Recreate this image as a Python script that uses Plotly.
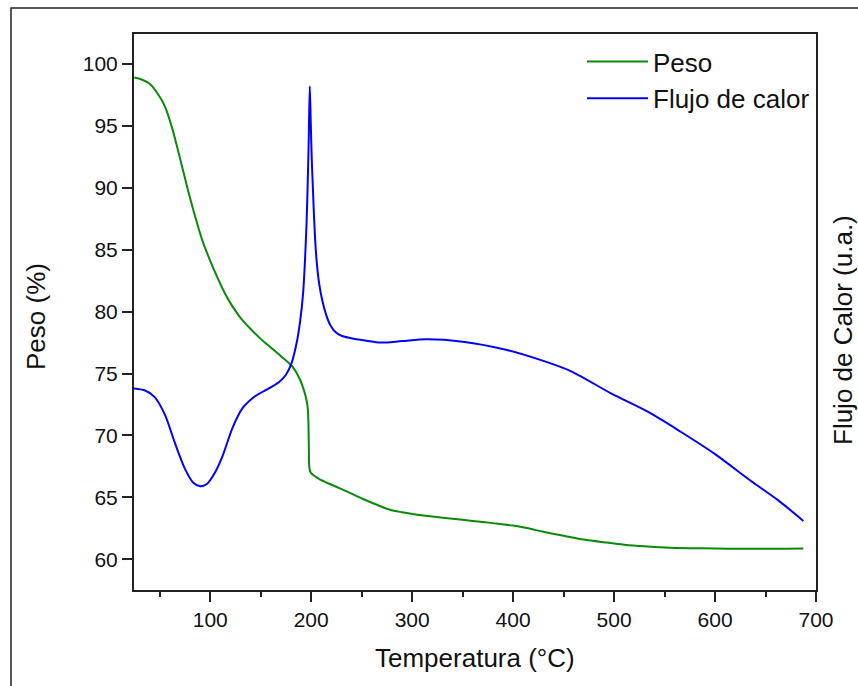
import plotly.graph_objects as go

# Peso (%) vs temperature (°C)
temp_peso = [24.8, 32, 40, 48, 55, 62, 70, 78, 85, 92, 100, 108, 115, 123, 130, 140, 150, 160,
             170, 182, 189, 193, 195.5, 196.8, 197.6, 198.2, 199.5, 202, 208.5, 215, 228, 240, 252,
             265, 278, 290, 305, 320, 340, 360, 380, 400, 415, 430, 450, 470, 490, 510, 530, 550,
             575, 600, 625, 650, 670, 687.5]
peso = [98.9, 98.75, 98.4, 97.6, 96.6, 94.9, 92.4, 89.8, 87.7, 85.8, 84.1, 82.6, 81.4, 80.3, 79.5,
        78.6, 77.8, 77.1, 76.4, 75.5, 74.5, 73.6, 72.8, 72.0, 69.5, 67.4, 67.0, 66.8, 66.45, 66.2,
        65.75, 65.3, 64.85, 64.4, 64.0, 63.8, 63.6, 63.45, 63.28, 63.1, 62.92, 62.72, 62.5, 62.22,
        61.9, 61.6, 61.38, 61.18, 61.05, 60.96, 60.9, 60.87, 60.85, 60.85, 60.86, 60.88]

# Flujo de calor (u.a.), drawn on the same visual scale as the left axis
temp_flujo = [24.5, 35, 45, 55, 65, 75, 83, 90, 97, 104, 112, 122, 132, 145, 158, 168, 175, 180.4,
              185.4, 189, 192, 195.3, 196.9, 197.6, 198.6, 199.5, 200.5, 201.9, 203.6, 205.5, 208,
              211, 215, 219, 224, 230, 240, 255, 268, 290, 314, 350, 394, 427, 457, 497, 536, 566,
              599, 636, 662, 687.5]
flujo = [73.8, 73.65, 73.1, 71.7, 69.4, 67.3, 66.2, 65.9, 66.1, 66.9, 68.3, 70.6, 72.2, 73.2, 73.8,
         74.3, 74.9, 75.8, 77.4, 79.2, 81.5, 86.9, 91.5, 94.0, 98.2, 95.5, 92.5, 89.5, 86.3, 84.0,
         82.2, 80.9, 79.7, 78.9, 78.35, 78.05, 77.85, 77.65, 77.5, 77.62, 77.76, 77.57, 76.9, 76.1,
         75.2, 73.4, 71.8, 70.3, 68.55, 66.3, 64.8, 63.1]

x_ticks = [100, 200, 300, 400, 500, 600, 700]
y_ticks = [60, 65, 70, 75, 80, 85, 90, 95, 100]

FONT = "Liberation Sans, Arial, sans-serif"

fig = go.Figure()
fig.add_trace(go.Scatter(x=temp_peso, y=peso, mode="lines", name="Peso",
                         line=dict(color="#0a8a0a", width=2, shape="spline", smoothing=0.8)))
fig.add_trace(go.Scatter(x=temp_flujo, y=flujo, mode="lines", name="Flujo de calor",
                         line=dict(color="#0000ff", width=2, shape="spline", smoothing=0.8),
                         yaxis="y2"))

fig.update_layout(
    width=858, height=686,
    margin=dict(l=134, r=42, t=34, b=96),
    paper_bgcolor="white", plot_bgcolor="white",
    font=dict(family=FONT, color="#111", size=21),
    showlegend=True,
    legend=dict(x=(582 - 134) / 682, y=1.0 - 4 / 556, xanchor="left", yanchor="top",
                font=dict(size=26, family=FONT, color="#111"),
                bgcolor="rgba(0,0,0,0)", itemwidth=61, tracegroupgap=0),
    xaxis=dict(range=[24.5, 700], tickvals=x_ticks, ticks="outside", ticklen=10, tickwidth=2,
               tickcolor="#222", showline=True, linecolor="#222", linewidth=2, mirror=True,
               showgrid=False, zeroline=False, tickfont=dict(size=21),
               minor=dict(dtick=50, tick0=0, ticks="outside", ticklen=5, tickwidth=2,
                          tickcolor="#222", showgrid=False)),
    yaxis=dict(range=[57.52, 102.42], tickvals=y_ticks, ticks="outside", ticklen=10, tickwidth=2,
               tickcolor="#222", showline=True, linecolor="#222", linewidth=2, mirror=True,
               showgrid=False, zeroline=False, tickfont=dict(size=21)),
    yaxis2=dict(range=[57.52, 102.42], overlaying="y", side="right", showticklabels=False,
                ticks="", showgrid=False, zeroline=False, showline=False),
    shapes=[dict(type="rect", xref="paper", yref="paper",
                 x0=(11 - 134) / 682, x1=(880 - 134) / 682,
                 y0=(590 - 700) / 556, y1=(590 - 8) / 556,
                 line=dict(color="#222", width=1.5), fillcolor="rgba(0,0,0,0)", layer="below")],
    annotations=[
        dict(text="Temperatura (°C)", xref="paper", yref="paper", x=0.5, y=(590 - 658) / 556,
             xanchor="center", yanchor="middle", showarrow=False, font=dict(size=26)),
        dict(text="Peso (%)", xref="paper", yref="paper", x=(36 - 134) / 682, y=(590 - 316) / 556,
             xanchor="center", yanchor="middle", showarrow=False, textangle=-90, font=dict(size=26)),
        dict(text="Flujo de Calor (u.a.)", xref="paper", yref="paper", x=(843 - 134) / 682,
             y=(590 - 330) / 556, xanchor="center", yanchor="middle", showarrow=False,
             textangle=-90, font=dict(size=26)),
    ],
)

fig.write_html("out.html", post_script="document.body.style.margin='0';",
               config={"displayModeBar": False})
